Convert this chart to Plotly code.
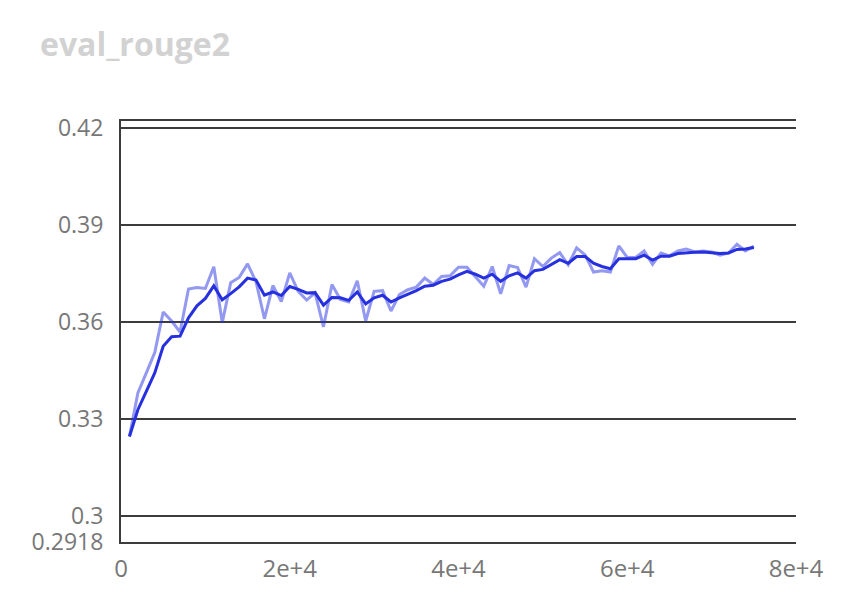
import plotly.graph_objects as go

steps = [k * 1000 for k in range(1, 76)]

raw_values = [
    0.3245, 0.3380, 0.3442, 0.3505, 0.3631, 0.3603, 0.3569, 0.3702, 0.3707, 0.3704,
    0.3771, 0.3598, 0.3722, 0.3738, 0.3780, 0.3725, 0.3610, 0.3713, 0.3663, 0.3752,
    0.3695, 0.3668, 0.3690, 0.3585, 0.3716, 0.3670, 0.3662, 0.3728, 0.3603, 0.3695,
    0.3697, 0.3634, 0.3685, 0.3700, 0.3708, 0.3736, 0.3716, 0.3741, 0.3743, 0.3770,
    0.3770, 0.3741, 0.3711, 0.3772, 0.3687, 0.3775, 0.3769, 0.3708, 0.3796, 0.3772,
    0.3798, 0.3815, 0.3777, 0.3830, 0.3808, 0.3755, 0.3759, 0.3755, 0.3836, 0.3800,
    0.3800, 0.3820, 0.3779, 0.3814, 0.3805, 0.3820, 0.3826, 0.3817, 0.3820, 0.3817,
    0.3807, 0.3814, 0.3841, 0.3820, 0.3835,
]

smoothed_values = [
    0.3245, 0.3328, 0.3385, 0.3442, 0.3525, 0.3554, 0.3556, 0.3613, 0.3650, 0.3673,
    0.3712, 0.3669, 0.3688, 0.3709, 0.3736, 0.3730, 0.3683, 0.3693, 0.3682, 0.3710,
    0.3701, 0.3690, 0.3691, 0.3652, 0.3676, 0.3675, 0.3667, 0.3693, 0.3656, 0.3675,
    0.3683, 0.3662, 0.3675, 0.3685, 0.3697, 0.3711, 0.3714, 0.3726, 0.3733, 0.3746,
    0.3757, 0.3748, 0.3736, 0.3748, 0.3726, 0.3743, 0.3752, 0.3736, 0.3759, 0.3763,
    0.3777, 0.3793, 0.3782, 0.3803, 0.3803, 0.3782, 0.3772, 0.3765, 0.3796, 0.3796,
    0.3796, 0.3807, 0.3792, 0.3804, 0.3804, 0.3812, 0.3815, 0.3816, 0.3817, 0.3815,
    0.3812, 0.3814, 0.3825, 0.3826, 0.3831,
]

y_tickvals = [0.2918, 0.3, 0.33, 0.36, 0.39, 0.42]
y_ticktext = ["0.2918", "0.3", "0.33", "0.36", "0.39", "0.42"]
x_tickvals = [0, 20000, 40000, 60000, 80000]
x_ticktext = ["0", "2e+4", "4e+4", "6e+4", "8e+4"]

title_text = "eval_rouge2"

fig = go.Figure()
fig.add_trace(go.Scatter(
    x=steps, y=raw_values, mode="lines",
    line=dict(color="rgba(40,50,225,0.5)", width=3),
    hoverinfo="skip", showlegend=False,
))
fig.add_trace(go.Scatter(
    x=steps, y=smoothed_values, mode="lines",
    line=dict(color="rgb(38,48,222)", width=3),
    showlegend=False,
))

fig.update_layout(
    width=856, height=602,
    margin=dict(l=113, r=68, t=113, b=68, pad=0),
    paper_bgcolor="white", plot_bgcolor="white",
    font=dict(family="Open Sans, sans-serif", color="#777777", size=24),
    title=dict(
        text="<b>" + title_text + "</b>",
        font=dict(family="Open Sans, sans-serif", size=32, color="#d2d2d2"),
        xref="container", yref="container",
        x=32 / 856, xanchor="left",
        y=1 - 37 / 602, yanchor="middle",
    ),
    xaxis=dict(
        range=[0, 80000],
        tickvals=x_tickvals, ticktext=x_ticktext,
        showgrid=False, zeroline=False,
        showline=True, linecolor="#3c3c3c", linewidth=2, mirror=True,
        ticks="", ticklabelstandoff=4,
        tickfont=dict(size=24, color="#777777"),
    ),
    yaxis=dict(
        range=[0.2918, 0.4223],
        tickvals=y_tickvals, ticktext=y_ticktext,
        showgrid=True, gridcolor="#3c3c3c", gridwidth=2,
        zeroline=False,
        showline=True, linecolor="#3c3c3c", linewidth=2,
        ticks="", ticklabelstandoff=11,
        tickfont=dict(size=23, color="#777777"),
    ),
)

fig.write_html("out.html")
